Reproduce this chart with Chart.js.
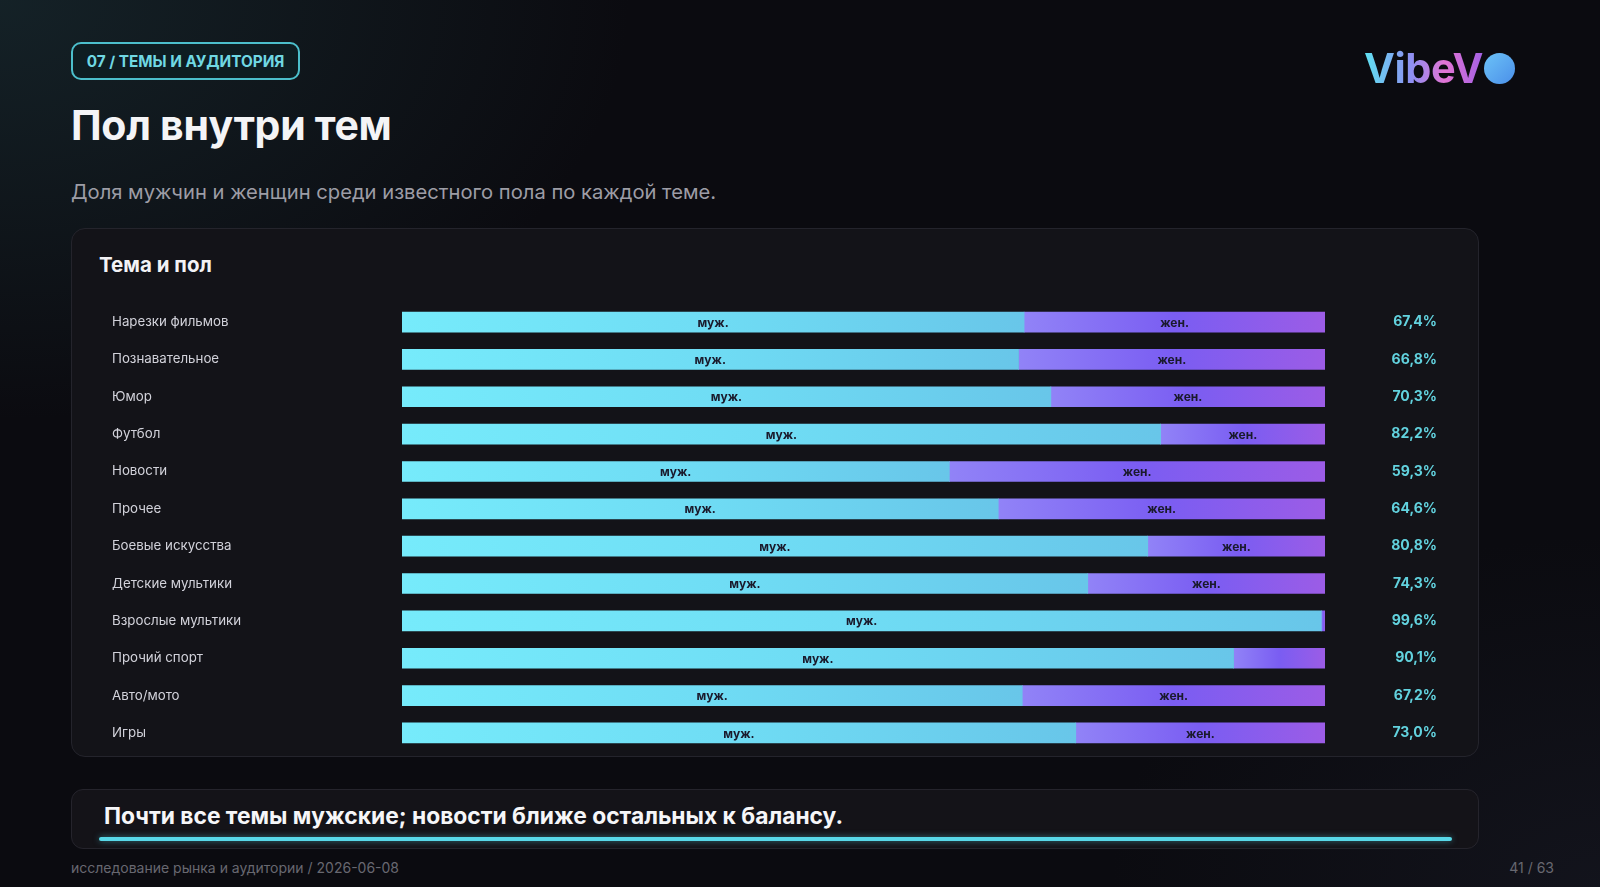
<!DOCTYPE html>
<html lang="ru">
<head>
<meta charset="utf-8">
<title>Пол внутри тем</title>
<script src="https://cdn.jsdelivr.net/npm/chart.js@4/dist/chart.umd.min.js"></script>
<style>
  html, body { margin: 0; padding: 0; }
  body {
    width: 1600px; height: 887px; overflow: hidden; position: relative;
    font-family: Inter, "Noto Sans", sans-serif;
    background:
      radial-gradient(ellipse 900px 600px at 0% 0%, rgba(28,52,58,0.55), rgba(0,0,0,0) 70%),
      radial-gradient(ellipse 700px 500px at 100% 100%, rgba(26,28,40,0.5), rgba(0,0,0,0) 70%),
      #0b0b10;
  }
  .badge {
    position: absolute; left: 71px; top: 42px; width: 225px; height: 34px;
    border: 2px solid #4cbfcc; border-radius: 10px; background: #0e1d22;
    color: #70d8e3; font-weight: 700; font-size: 15.3px;
    display: flex; align-items: center; justify-content: center;
  }
  h1 {
    position: absolute; left: 71px; top: 100px; margin: 0;
    font-size: 41px; font-weight: 700; color: #f4f4f6; letter-spacing: -0.3px;
  }
  .sub {
    position: absolute; left: 71px; top: 179px; font-size: 20.2px; color: #9d9da6;
  }
  .logo {
    position: absolute; left: 1364px; top: 44px; height: 48px;
    display: flex; align-items: center;
  }
  .logo span {
    font-size: 41.5px; font-weight: 700; letter-spacing: -0.5px;
    background: linear-gradient(90deg, #5fe2f1 0%, #8f8ff2 40%, #e274d4 68%, #a461e4 100%);
    -webkit-background-clip: text; background-clip: text; color: transparent;
  }
  .logo i {
    display: inline-block; width: 31px; height: 31px; border-radius: 50%; margin-left: 1px;
    background: linear-gradient(135deg, #6cc3f7, #4b8fe9);
  }
  .card {
    position: absolute; left: 71px; top: 228px; width: 1406px; height: 527px;
    background: #131318; border: 1px solid #24242c; border-radius: 14px;
  }
  .card h2 {
    position: absolute; left: 27px; top: 23px; margin: 0;
    font-size: 20.5px; font-weight: 700; color: #f2f2f5;
  }
  .chartbox { position: absolute; left: 112px; top: 295px; width: 1325px; height: 465px; }
  .callout {
    position: absolute; left: 71px; top: 789px; width: 1406px; height: 58px;
    background: #141318; border: 1px solid #25242c; border-radius: 12px;
  }
  .callout p {
    position: absolute; left: 32px; top: 12px; margin: 0;
    font-size: 22.8px; font-weight: 700; color: #f6f6f8;
  }
  .callout .line {
    position: absolute; left: 27px; top: 47px; width: 1353px; height: 4px;
    background: #58d8e8; border-radius: 2px; box-shadow: 0 0 6px rgba(88,216,232,0.5);
  }
  .foot { position: absolute; top: 859px; font-size: 14px; color: #686870; }
</style>
</head>
<body>
<div class="badge">07 / ТЕМЫ И АУДИТОРИЯ</div>
<h1>Пол внутри тем</h1>
<div class="sub">Доля мужчин и женщин среди известного пола по каждой теме.</div>
<div class="logo"><span>VibeV</span><i></i></div>

<div class="card"><h2>Тема и пол</h2></div>
<div class="chartbox"><canvas id="myChart"></canvas></div>

<div class="callout">
  <p>Почти все темы мужские; новости ближе остальных к балансу.</p>
  <div class="line"></div>
</div>
<div class="foot" style="left:71px">исследование рынка и аудитории / 2026-06-08</div>
<div class="foot" style="right:46px">41 / 63</div>

<script>
// data
const topics = ['Нарезки фильмов', 'Познавательное', 'Юмор', 'Футбол', 'Новости', 'Прочее',
    'Боевые искусства', 'Детские мультики', 'Взрослые мультики', 'Прочий спорт', 'Авто/мото', 'Игры'];
const male = [67.4, 66.8, 70.3, 82.2, 59.3, 64.6, 80.8, 74.3, 99.6, 90.1, 67.2, 73.0];
const female = [32.6, 33.2, 29.7, 17.8, 40.7, 35.4, 19.2, 25.7, 0.4, 9.9, 32.8, 27.0];
const shareLabels = ['67,4%', '66,8%', '70,3%', '82,2%', '59,3%', '64,6%',
    '80,8%', '74,3%', '99,6%', '90,1%', '67,2%', '73,0%'];

const maleStops = ['#76ebfb', '#6fdcf4', '#68c6e9'];
const femaleStops = ['#9183f7', '#7a5df2', '#9c5ce6'];

// gradient over one segment of the stacked bar
function segFill(ctx, stops) {
    const chart = ctx.chart;
    const x = chart.scales.x;
    if (!chart.chartArea || !x || ctx.dataIndex === undefined) return stops[1];
    let from = 0, to = male[ctx.dataIndex];
    if (ctx.datasetIndex === 1) { from = male[ctx.dataIndex]; to = 100; }
    const x0 = x.getPixelForValue(from), x1 = x.getPixelForValue(to);
    if (!isFinite(x0) || !isFinite(x1) || x1 - x0 < 1) return stops[0];
    const g = chart.ctx.createLinearGradient(x0, 0, x1, 0);
    g.addColorStop(0, stops[0]);
    g.addColorStop(0.5, stops[1]);
    g.addColorStop(1, stops[2]);
    return g;
}

// "муж." / "жен." inside segments
const segLabels = {
    id: 'segLabels',
    afterDatasetsDraw(chart) {
        const c = chart.ctx;
        c.save();
        c.font = '700 12px Inter, "Noto Sans", sans-serif';
        c.fillStyle = '#1a1a2c';
        c.textAlign = 'center';
        c.textBaseline = 'middle';
        chart.data.datasets.forEach((ds, di) => {
            chart.getDatasetMeta(di).data.forEach((bar, i) => {
                if (ds.data[i] < 10) return;
                const p = bar.getProps(['x', 'y', 'base'], true);
                c.fillText(ds.label, (p.x + p.base) / 2, p.y + 1);
            });
        });
        c.restore();
    }
};

const ctx = document.getElementById('myChart');

new Chart(ctx, {
    type: 'bar',
    data: {
        labels: topics,
        datasets: [{
            label: 'муж.',
            data: male,
            backgroundColor: c => segFill(c, maleStops),
            barThickness: 20,
            borderSkipped: false
        }, {
            label: 'жен.',
            data: female,
            backgroundColor: c => segFill(c, femaleStops),
            barThickness: 20,
            borderSkipped: false
        }]
    },
    plugins: [segLabels],
    options: {
        indexAxis: 'y',
        responsive: true,
        maintainAspectRatio: false,
        animation: false,
        layout: { padding: 0 },
        plugins: { legend: { display: false }, tooltip: { enabled: false } },
        scales: {
            x: { stacked: true, min: 0, max: 100, display: false },
            y: {
                stacked: true,
                grid: { display: false },
                border: { display: false },
                ticks: {
                    color: '#d2d2da',
                    crossAlign: 'far',
                    padding: 0,
                    font: { family: 'Inter', size: 13.3 }
                },
                afterFit: s => { s.width = 290; }
            },
            y2: {
                type: 'category',
                labels: shareLabels,
                position: 'right',
                offset: true,
                grid: { display: false },
                border: { display: false },
                ticks: {
                    color: '#62d2de',
                    crossAlign: 'far',
                    padding: 0,
                    font: { family: 'Inter', size: 14, weight: '700' }
                },
                afterFit: s => { s.width = 112; }
            }
        }
    }
});
</script>
</body>
</html>
